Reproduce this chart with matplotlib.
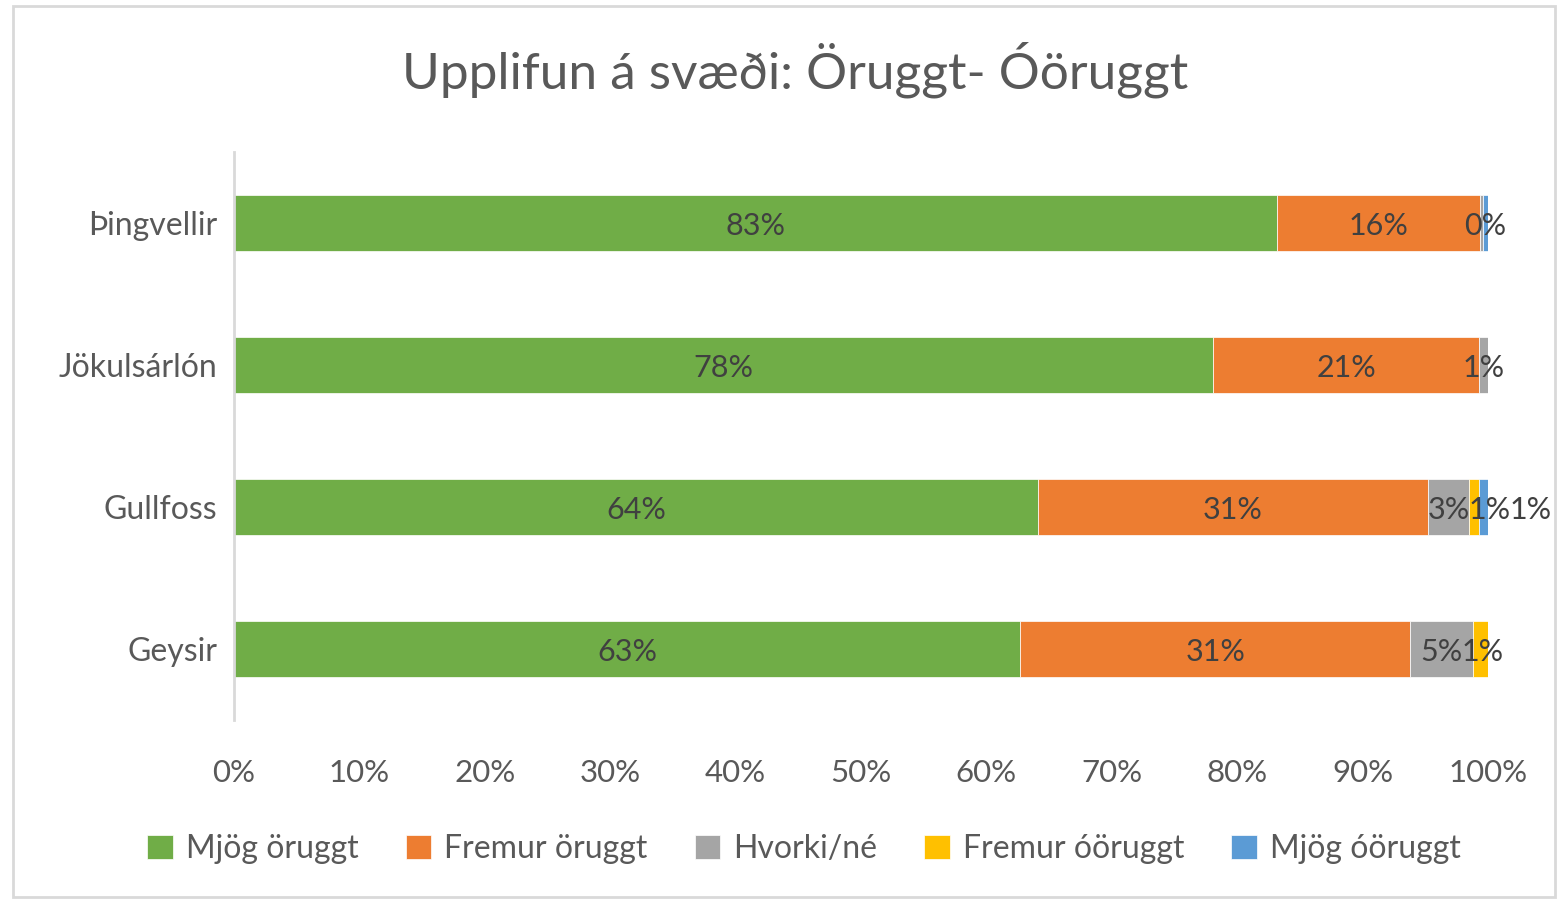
import matplotlib
matplotlib.use("Agg")
import matplotlib.pyplot as plt
from matplotlib.patches import Rectangle
import numpy as np

plt.rcParams['font.family'] = ['Lato', 'DejaVu Sans']

categories = ["Þingvellir", "Jökulsárlón", "Gullfoss", "Geysir"]
series_names = ["Mjög öruggt", "Fremur öruggt", "Hvorki/né", "Fremur óöruggt", "Mjög óöruggt"]
mjog_oruggt = [83.1, 78.1, 64.1, 62.7]
fremur_oruggt = [16.2, 21.2, 31.1, 31.1]
hvorki_ne = [0.2, 0.7, 3.3, 5.0]
fremur_ooruggt = [0.0, 0.0, 0.8, 1.2]
mjog_ooruggt = [0.4, 0.0, 0.7, 0.0]
colors = ["#70AD47", "#ED7D31", "#A5A5A5", "#FFC000", "#5B9BD5"]
xticks = [0, 10, 20, 30, 40, 50, 60, 70, 80, 90, 100]

series = [mjog_oruggt, fremur_oruggt, hvorki_ne, fremur_ooruggt, mjog_ooruggt]
data = np.array(series, dtype=float)
data = data / data.sum(axis=0) * 100

fig = plt.figure(figsize=(15.57, 9.0), dpi=100)
ax = fig.add_axes([234/1557, (900-720)/900, (1488-234)/1557, (720-152)/900])

ypos = np.arange(len(categories))
left = np.zeros(len(categories))
text_color = "#404040"
labels_by_row = {j: [] for j in range(len(categories))}
for i, name in enumerate(series_names):
    vals = data[i]
    ax.barh(ypos, vals, left=left, height=0.39, color=colors[i], label=name,
            edgecolor='white', linewidth=0.5)
    for j, v in enumerate(vals):
        if v >= 0.3:
            t = ax.text(left[j] + v / 2, ypos[j] + 0.02, f"{int(v + 0.5)}%" if v >= 0.5 else "0%",
                        ha='center', va='center', fontsize=22, color=text_color)
            labels_by_row[j].append(t)
    left += vals

ax.set_xlim(0, 100)
ax.set_ylim(3.5, -0.5)
ax.set_yticks(ypos)
ax.set_yticklabels(categories, fontsize=23, color="#595959")
ax.set_xticks(xticks)
ax.set_xticklabels([f"{t}%" for t in xticks], fontsize=22.5, color="#595959")
ax.tick_params(axis='both', length=0)
ax.tick_params(axis='y', pad=12)
ax.tick_params(axis='x', pad=28)
for s in ['top', 'right', 'bottom']:
    ax.spines[s].set_visible(False)
ax.spines['left'].set_color('#D9D9D9')
ax.spines['left'].set_linewidth(2)

# push overlapping small-segment labels to the right, as the reference does
renderer = fig.canvas.get_renderer()
px_per_unit = ax.transData.transform((1, 0))[0] - ax.transData.transform((0, 0))[0]
for j, texts in labels_by_row.items():
    prev_right = None
    for t in texts:
        bb = t.get_window_extent(renderer)
        if prev_right is not None and bb.x0 < prev_right - 1:
            shift = (prev_right - 1 - bb.x0) / px_per_unit
            x, y = t.get_position()
            t.set_position((x + shift, y))
            bb = t.get_window_extent(renderer)
        prev_right = bb.x1

fig.text(795/1557, 1 - 70/900, "Upplifun á svæði: Öruggt- Óöruggt", ha='center', va='center',
         fontsize=37, color="#595959")

handles, labels = ax.get_legend_handles_labels()
leg = fig.legend(handles, labels, loc='center', bbox_to_anchor=(804/1557, 1 - 849/900), ncol=5,
                 frameon=False, fontsize=23, handlelength=0.8, handleheight=0.8,
                 columnspacing=1.48, handletextpad=0.4, labelcolor="#595959")

fig.patches.append(Rectangle((13/1557, 3/900), (1555-13)/1557, (894-3)/900, transform=fig.transFigure,
                             fill=False, edgecolor='#D9D9D9', linewidth=2))

fig.savefig("out.png", dpi=100, facecolor='white')
